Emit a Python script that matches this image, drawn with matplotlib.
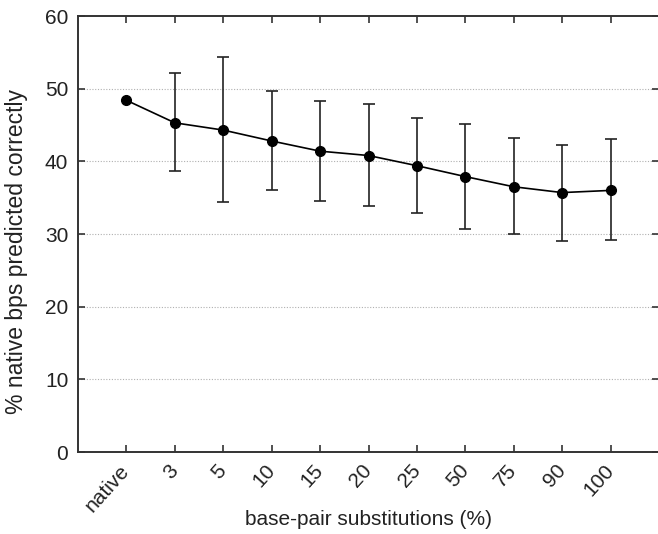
import matplotlib
matplotlib.use("Agg")
import matplotlib.pyplot as plt
import numpy as np

plt.rcParams['font.family'] = ['Liberation Sans', 'DejaVu Sans']

categories = ["native", "3", "5", "10", "15", "20", "25", "50", "75", "90", "100"]
means = [48.4, 45.3, 44.3, 42.8, 41.4, 40.8, 39.4, 37.9, 36.5, 35.7, 36.0]
upper = [None, 52.2, 54.3, 49.7, 48.3, 47.9, 45.9, 45.1, 43.2, 42.3, 43.1]
lower = [None, 38.7, 34.4, 36.1, 34.6, 33.8, 32.9, 30.7, 30.0, 29.1, 29.2]
yticks = [0, 10, 20, 30, 40, 50, 60]

fig = plt.figure(figsize=(6.58, 5.34), dpi=100)
ax = fig.add_axes([78/658, 1 - 452/534, (659-78)/658, (452-16)/534])

x = np.arange(len(categories))
ax.plot(x, means, color='black', lw=1.2, marker='o', ms=7, zorder=3)
ex = x[1:]
em = np.array(means[1:])
eu = np.array(upper[1:], dtype=float) - em
el = em - np.array(lower[1:], dtype=float)
ax.errorbar(ex, em, yerr=[el, eu], fmt='none', ecolor='#222222', elinewidth=1.2,
            capsize=4.5, capthick=1.2, zorder=2)

ax.set_xlim(-1, 11)
ax.set_ylim(0, 60)
ax.set_yticks(yticks)
ax.set_xticks(x)
ax.set_xticklabels(categories, rotation=48, ha='right', va='center', rotation_mode='anchor')
for yv in yticks[1:-1]:
    ax.axhline(yv, color='#b0b0b0', lw=0.8, ls=(0, (1, 1.5)), zorder=1)

ax.tick_params(axis='both', direction='in', top=True, right=True, length=5,
               width=1.2, color='#333333', labelsize=15, labelcolor='#222222')
ax.tick_params(axis='x', pad=11)
ax.tick_params(axis='y', pad=7)
for s in ax.spines.values():
    s.set_color('#333333')
    s.set_linewidth(1.4)

ax.set_xlabel('base-pair substitutions (%)', fontsize=15, color='#222222')
ax.xaxis.set_label_coords(0.5, -(510 - 452) / 436)
ax.set_ylabel('% native bps predicted correctly', fontsize=16.5, color='#222222')
ax.yaxis.set_label_coords(-(78 - 28) / 581, (452 - 252) / 436)

fig.savefig('out.png', dpi=100)
